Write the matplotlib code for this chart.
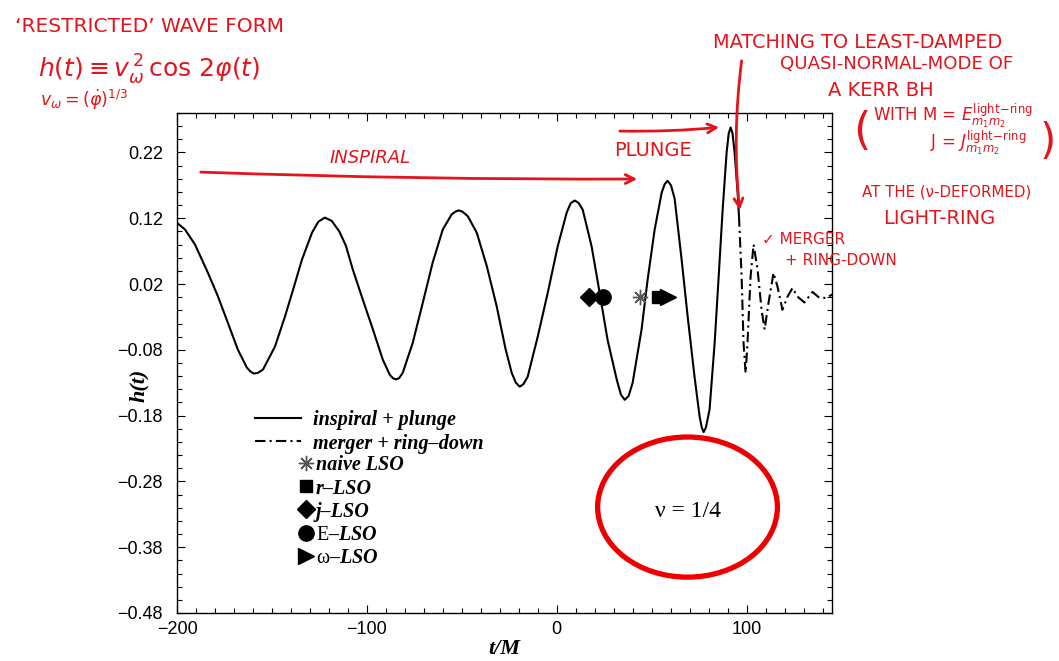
import matplotlib
matplotlib.use("Agg")
import matplotlib.pyplot as plt
from matplotlib.patches import Ellipse, FancyArrowPatch
from matplotlib.ticker import MultipleLocator

plt.rcParams['mathtext.fontset'] = 'custom'
plt.rcParams['mathtext.rm'] = 'Liberation Serif'
plt.rcParams['mathtext.it'] = 'Liberation Serif:italic'
plt.rcParams['mathtext.bf'] = 'Liberation Serif:bold'

# waveform, inspiral + plunge part
t_inspiral = [-200.0, -195.8, -190.5, -183.7, -178.4, -173.2, -167.9, -163.2, -161.3, -159.5,
              -157.4, -154.7, -148.4, -143.2, -138.9, -134.2, -128.9, -125.5, -122.1, -118.5,
              -114.5, -111.0, -107.4, -102.1, -96.8, -91.6, -87.9, -86.3, -84.7, -83.0,
              -81.1, -75.8, -70.5, -65.3, -60.0, -55.3, -53.4, -51.6, -49.6, -46.8,
              -42.1, -36.8, -31.6, -27.0, -23.7, -21.5, -19.5, -17.5, -15.3, -10.0,
              -4.7, 0.5, 5.3, 7.4, 9.5, 11.6, 13.7, 18.4, 22.6, 26.8,
              31.6, 33.8, 35.8, 37.9, 40.0, 44.7, 47.9, 51.6, 55.3, 56.9,
              58.4, 60.2, 62.1, 65.8, 69.0, 72.6, 75.3, 76.4, 77.4, 78.6,
              80.5, 83.2, 85.3, 87.4, 89.5, 90.6, 91.6, 92.6, 93.7, 95.3, 96.0]
h_inspiral = [0.113, 0.103, 0.080, 0.037, 0.001, -0.039, -0.080, -0.107, -0.113, -0.116,
              -0.115, -0.110, -0.075, -0.030, 0.011, 0.057, 0.098, 0.115, 0.121, 0.116,
              0.100, 0.078, 0.042, -0.004, -0.049, -0.095, -0.118, -0.123, -0.125, -0.123,
              -0.115, -0.069, -0.008, 0.053, 0.103, 0.126, 0.130, 0.132, 0.130, 0.123,
              0.098, 0.047, -0.014, -0.078, -0.115, -0.130, -0.136, -0.132, -0.121, -0.060,
              0.007, 0.077, 0.129, 0.143, 0.147, 0.143, 0.133, 0.077, 0.007, -0.065,
              -0.125, -0.148, -0.156, -0.150, -0.130, -0.049, 0.027, 0.103, 0.159, 0.172,
              0.177, 0.170, 0.150, 0.057, -0.030, -0.121, -0.182, -0.198, -0.205, -0.198,
              -0.171, -0.069, 0.031, 0.133, 0.220, 0.249, 0.258, 0.249, 0.220, 0.159, 0.123]

# merger + ring-down part
t_ringdown = [96.0, 97.4, 98.4, 99.5, 100.5, 102.1, 103.7, 105.8, 107.9, 109.5, 111.6,
              114.2, 116.3, 118.9, 121.6, 124.2, 126.8, 130.5, 134.7, 138.4, 142.1, 145.0]
h_ringdown = [0.123, 0.031, -0.069, -0.115, -0.069, 0.031, 0.080, 0.042, -0.019, -0.049, -0.008,
              0.037, 0.016, -0.019, 0.001, 0.014, 0.001, -0.008, 0.008, -0.001, -0.001, 0.004]

# last stable orbit markers
lso_labels = ['naive LSO', 'r\u2013LSO', 'j\u2013LSO', '$\\mathrm{E}$\u2013LSO', '$\\mathrm{\u03c9}$\u2013LSO']
lso_t = [43.7, 53.5, 16.8, 24.2, 58.5]
lso_h = [0.001, 0.001, 0.001, 0.001, 0.001]
lso_markers = [(8, 2, 0), 's', 'D', 'o', '>']
lso_sizes = [11, 9, 9, 11, 11]

curve_labels = ['inspiral + plunge', 'merger + ring\u2013down']
yticks = [-0.48, -0.38, -0.28, -0.18, -0.08, 0.02, 0.12, 0.22]

W, H = 1059, 661
fig = plt.figure(figsize=(W / 100, H / 100), dpi=100)
ax = fig.add_axes([177 / W, 1 - 613 / H, 655 / W, 500 / H])

dash = (0, (5, 2, 1, 2))
l1, = ax.plot(t_inspiral, h_inspiral, color='k', lw=1.5)
l2, = ax.plot(t_ringdown, h_ringdown, color='k', lw=1.5, linestyle=dash)

marks = []
for i in range(len(lso_t)):
    col = '#555555' if i == 0 else 'k'
    m, = ax.plot([lso_t[i]], [lso_h[i]], linestyle='none', marker=lso_markers[i],
                 ms=lso_sizes[i], color=col, mec=col, mew=1, label=lso_labels[i])
    marks.append(m)

ax.set_xlim(-200, 145)
ax.set_ylim(-0.48, 0.28)
ax.xaxis.set_major_locator(MultipleLocator(100))
ax.xaxis.set_minor_locator(MultipleLocator(10))
ax.set_yticks(yticks)
ax.yaxis.set_minor_locator(MultipleLocator(0.02))
ax.tick_params(which='both', direction='in', top=True, right=True, width=0.8)
ax.tick_params(which='major', length=6)
ax.tick_params(which='minor', length=3.5)
ax.tick_params(axis='y', pad=10)
ax.tick_params(axis='x', pad=6)
for lab in ax.get_xticklabels() + ax.get_yticklabels():
    lab.set_family('Liberation Sans')
    lab.set_fontsize(13)
for s in ax.spines.values():
    s.set_linewidth(1.0)

lab_font = dict(family='Liberation Serif', weight='bold', style='italic', size=16)
ax.set_xlabel('t/M', fontdict=lab_font)
ax.set_ylabel('h(t)', fontdict=lab_font)
ax.xaxis.set_label_coords(0.50, -0.052)
ax.yaxis.set_label_coords(-0.043, 0.455)

leg_font = dict(family='Liberation Serif', weight='bold', style='italic', size=14.5)
leg1 = ax.legend([l1, l2], curve_labels, loc='upper left', bbox_to_anchor=(0.119, 0.405),
                 frameon=False, prop=leg_font, handlelength=2.3, handletextpad=0.6,
                 borderpad=0, borderaxespad=0, labelspacing=0.15)
ax.add_artist(leg1)
ax.legend(handles=marks, loc='upper left', bbox_to_anchor=(0.185, 0.315),
          frameon=False, prop=leg_font, handlelength=0.75, handletextpad=0.12,
          borderpad=0, borderaxespad=0, labelspacing=0.15)

# nu = 1/4 circled in red
ax.add_patch(Ellipse((68.9, -0.319), width=94.7, height=0.213, fill=False,
                     edgecolor='#ee0000', lw=3.8, clip_on=False))
ax.text(68.9, -0.326, '\u03bd = 1/4', family='Liberation Serif', fontsize=17,
        ha='center', va='center')

# handwritten notes
red = '#e3141c'


def fp(x, y):
    return (x / W, 1 - y / H)


hand = dict(color=red, family='DejaVu Sans', va='center', ha='left')
fig.text(*fp(15, 27), '\u2018RESTRICTED\u2019 WAVE FORM', fontsize=14.5, **hand)
fig.text(*fp(38, 70), r'$h(t)\equiv v_{\omega}^{\,2}\,\cos\,2\varphi(t)$', fontsize=18,
         math_fontfamily='dejavusans', **hand)
fig.text(*fp(40, 100), r'$v_{\omega}=(\dot{\varphi})^{1/3}$', fontsize=12.5,
         math_fontfamily='dejavusans', **hand)
fig.text(*fp(713, 43), 'MATCHING TO LEAST-DAMPED', fontsize=13.9, **hand)
fig.text(*fp(780, 64), 'QUASI-NORMAL-MODE OF', fontsize=13.1, **hand)
fig.text(*fp(828, 90), 'A KERR BH', fontsize=14, **hand)
fig.text(*fp(853, 132), '(', fontsize=32, **hand)
fig.text(*fp(873, 116), r'WITH M = $E_{m_1 m_2}^{\mathrm{light\!-\!ring}}$', fontsize=12,
         math_fontfamily='dejavusans', **hand)
fig.text(*fp(930, 143), r'J = $J_{m_1 m_2}^{\mathrm{light\!-\!ring}}$', fontsize=12,
         math_fontfamily='dejavusans', **hand)
fig.text(*fp(1040, 142), ')', fontsize=30, **hand)
fig.text(*fp(862, 192), 'AT THE (\u03bd-DEFORMED)', fontsize=10.8, **hand)
fig.text(*fp(883, 218), 'LIGHT-RING', fontsize=14, **hand)
fig.text(*fp(762, 240), '\u2713 MERGER', fontsize=11, **hand)
fig.text(*fp(785, 260), '+ RING-DOWN', fontsize=11, **hand)
fig.text(*fp(330, 158), 'INSPIRAL', fontsize=13, style='italic', **hand)
fig.text(*fp(614, 150), 'PLUNGE', fontsize=14, **hand)

arrows = [
    (fp(198, 172), fp(640, 179), '->', 'arc3,rad=0.01'),
    (fp(617, 131), fp(722, 127), '->', 'arc3,rad=0.03'),
    (fp(742, 58), fp(740, 213), '->', 'arc3,rad=0.06'),
]
for a, b, style, conn in arrows:
    fig.add_artist(FancyArrowPatch(a, b, transform=fig.transFigure, arrowstyle=style,
                                   connectionstyle=conn, mutation_scale=16,
                                   color=red, lw=2))

fig.savefig('out.png', dpi=100)
